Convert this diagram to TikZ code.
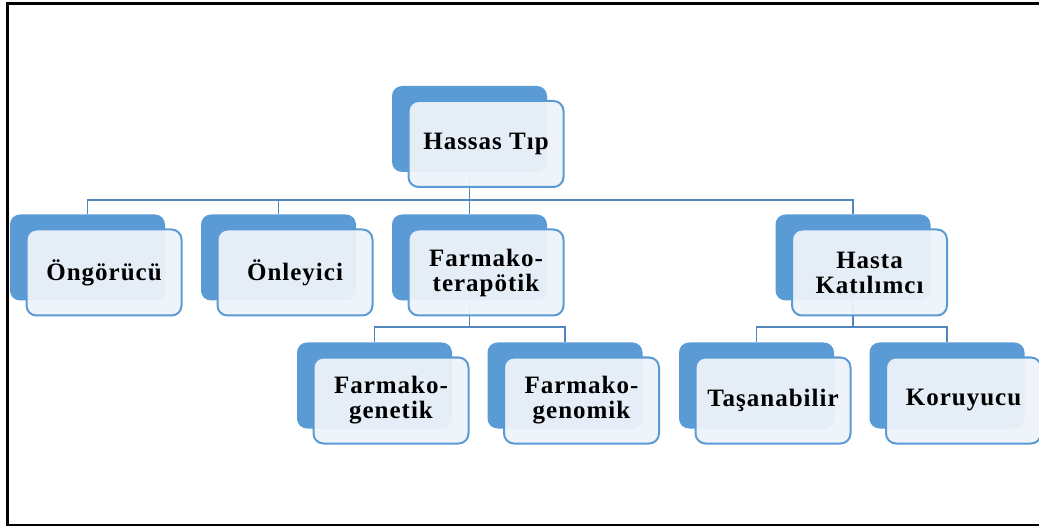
\documentclass[tikz,border=0pt]{standalone}
\usepackage{fontspec}
\setmainfont{Liberation Serif}
\newfontfamily\boxfont[LetterSpace=4]{Liberation Serif}
\usepackage{tikz}
\usetikzlibrary{positioning,calc,backgrounds}
\definecolor{backblue}{HTML}{5B9BD5}
\definecolor{frontfill}{HTML}{EEF3FA}
\definecolor{linkblue}{HTML}{5486BE}
\tikzset{
  back/.style={fill=backblue, rounded corners=5pt, minimum width=77.5pt, minimum height=43pt, inner sep=0pt},
  front/.style={draw=backblue, line width=1pt, fill=frontfill, fill opacity=0.94, text opacity=1,
    rounded corners=5pt, minimum width=77.5pt, minimum height=43pt, inner sep=2pt, align=center,
    font=\boxfont\bfseries\fontsize{12.5}{12.5}\selectfont},
  conn/.style={draw=linkblue, line width=0.9pt}}

\begin{document}
\begin{tikzpicture}[x=0.5pt, y=-0.5pt]
  \useasboundingbox (0,0) rectangle (1039,529);
  \draw[line width=1.1pt] (7.5,3.5) rectangle (1070,525);
  % back boxes
  \node[back] (hassasbk) at (469.5,129) {};
  \node[back] (ongorbk) at (87.5,257.5) {};
  \node[back] (onleybk) at (278.5,257.5) {};
  \node[back] (fterbk) at (469.5,257.5) {};
  \node[back] (hastabk) at (853,257.5) {};
  \node[back] (fgenetbk) at (374.5,385.5) {};
  \node[back] (fgenombk) at (565,385.5) {};
  \node[back] (tasanbk) at (756.5,385.5) {};
  \node[back] (korubk) at (947,385.5) {};
  % front boxes
  \node[front] (hassas) at ($(hassasbk)+(16.5,15)$) {Hassas Tıp};
  \node[front] (ongor) at ($(ongorbk)+(16.5,15)$) {Öngörücü};
  \node[front] (onley) at ($(onleybk)+(16.5,15)$) {Önleyici};
  \node[front] (fter) at ($(fterbk)+(16.5,15)$) {Farmako-\\terapötik};
  \node[front] (hasta) at ($(hastabk)+(16.5,15)$) {Hasta\\Katılımcı};
  \node[front] (fgenet) at ($(fgenetbk)+(16.5,15)$) {Farmako-\\genetik};
  \node[front] (fgenom) at ($(fgenombk)+(16.5,15)$) {Farmako-\\genomik};
  \node[front] (tasan) at ($(tasanbk)+(16.5,15)$) {Taşanabilir};
  \node[front] (koru) at ($(korubk)+(16.5,15)$) {Koruyucu};
  % connectors
  \coordinate (bus1) at (469.5,200);
  \coordinate (bus2) at (469.5,327);
  \coordinate (bus3) at (853,327);
  \begin{scope}[on background layer]
    \draw[conn] (hassasbk.south) -- (bus1);
    \foreach \c in {ongorbk,onleybk,fterbk,hastabk} \draw[conn] (\c.north) |- (bus1);
    \draw[conn] (fterbk.south) -- (bus2);
    \foreach \c in {fgenetbk,fgenombk} \draw[conn] (\c.north) |- (bus2);
    \draw[conn] (hastabk.south) -- (bus3);
    \foreach \c in {tasanbk,korubk} \draw[conn] (\c.north) |- (bus3);
  \end{scope}
\end{tikzpicture}
\end{document}
